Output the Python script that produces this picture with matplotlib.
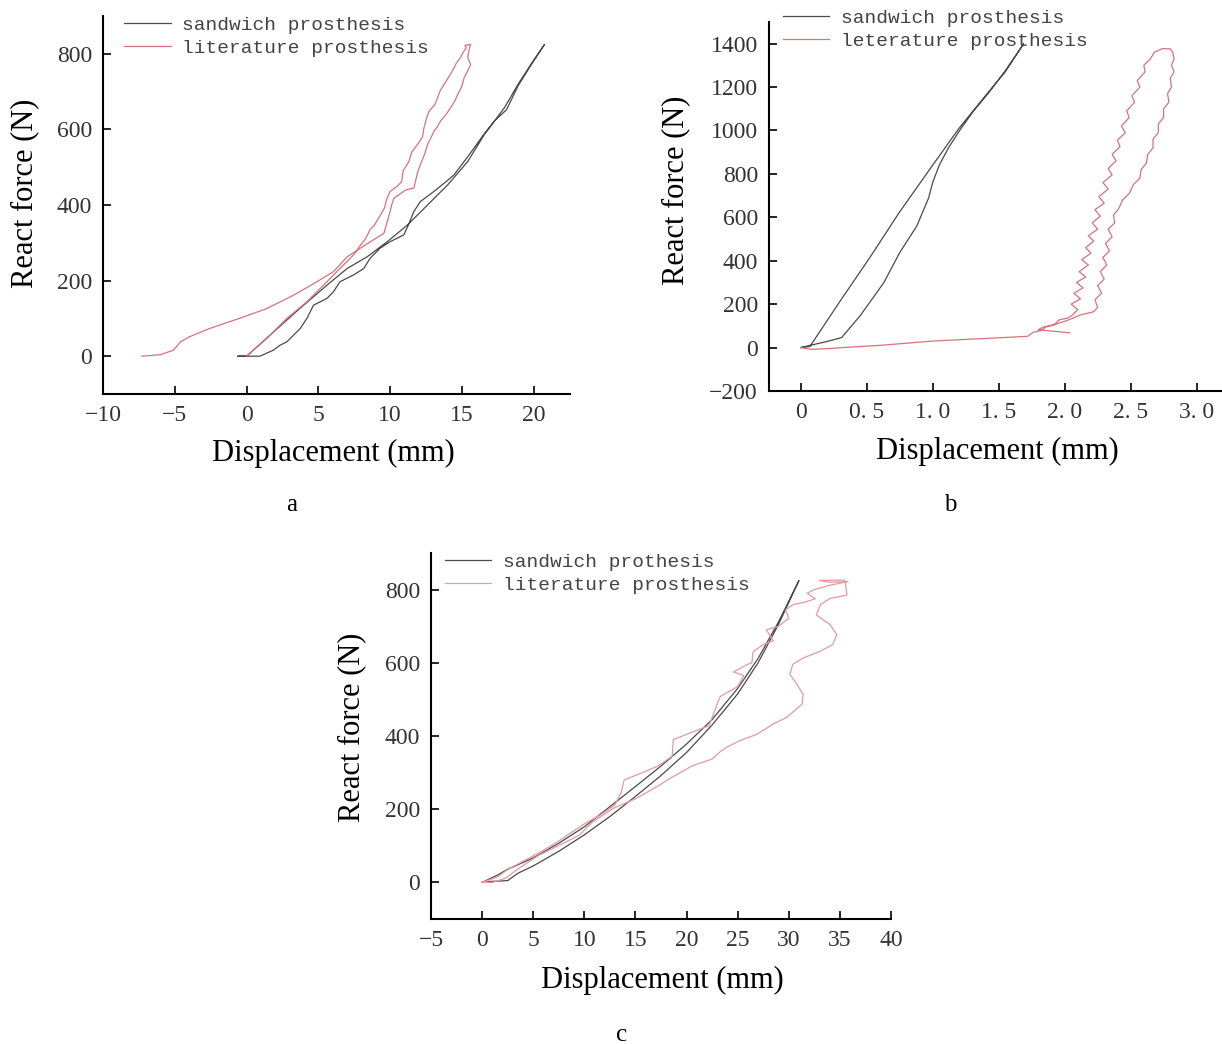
import matplotlib
matplotlib.use("Agg")
import matplotlib.pyplot as plt

# ---- panel a: loading / unloading loops (displacement mm, force N) ----
a_sandwich_x = [-0.6, 0.0, 1.9, 3.7, 5.6, 7.0, 8.4, 9.8, 11.2, 12.6, 14.0, 15.4, 16.55,
                17.95, 18.9, 19.8, 20.75,
                19.8, 18.9, 18.1, 17.25, 16.5, 15.85, 15.15, 14.45, 13.9, 13.05, 12.1,
                11.65, 11.3, 10.95, 10.0, 9.3, 8.6, 8.16, 7.45, 6.5, 6.06, 5.6, 4.66,
                4.2, 3.73, 2.8, 2.33, 1.86, 0.93, -0.6]
a_sandwich_y = [0, 0, 65, 126, 188, 232, 263, 303, 347, 400, 453, 515, 586,
                657, 719, 772, 825,
                770, 715, 652, 622, 586, 551, 515, 480, 462, 436, 409,
                383, 350, 321, 303, 286, 259, 232, 215, 197, 171, 153, 135,
                100, 73, 38, 29, 16, 0, 0]
a_literature_x = [0.0, 1.4, 2.8, 4.2, 5.6, 6.5, 7.45, 7.9, 8.3, 8.6, 8.9, 9.3, 9.6, 9.75,
                  10.0, 10.5, 10.8, 10.9, 11.3, 11.5, 11.9, 12.25, 12.35, 12.5, 12.7,
                  13.1, 13.3, 13.45, 13.75, 14.1, 14.45, 14.6, 14.9, 15.1, 15.3, 15.2,
                  15.6, 15.5,
                  15.4, 15.6, 15.4, 15.15, 15.0, 14.7, 14.5, 14.2, 13.9, 13.5, 13.3,
                  13.05, 12.8, 12.6, 12.4, 12.1, 11.9, 11.65, 11.1, 10.26, 10.1, 10.0,
                  9.56, 8.3, 7.0, 6.06, 4.9, 3.3, 1.4, -0.5, -2.6, -4.0, -4.6, -5.1,
                  -6.0, -7.3]
a_literature_y = [0, 47, 100, 144, 197, 232, 268, 292, 312, 335, 347, 372, 392, 415,
                  436, 450, 462, 490, 515, 540, 560, 580, 604, 625, 648,
                  665, 683, 700, 719, 740, 763, 775, 790, 805, 816, 822,
                  825, 812,
                  790, 772, 755, 737, 715, 692, 675, 657, 640, 622, 608,
                  595, 575, 560, 535, 507, 485, 445, 440, 418, 400, 383,
                  325, 295, 263, 224, 197, 162, 126, 100, 73, 51, 38, 16,
                  4, 0]

# ---- panel b ----
b_sandwich_x = [0.0, 0.07, 0.3, 0.53, 0.75, 1.0, 1.2, 1.4, 1.55, 1.69,
                1.55, 1.42, 1.31, 1.21, 1.12, 1.05, 1.0, 0.97, 0.88, 0.75, 0.63,
                0.45, 0.31, 0.2, 0.07, 0.0]
b_sandwich_y = [0, 5, 215, 420, 625, 840, 1010, 1160, 1270, 1400,
                1275, 1170, 1090, 1005, 920, 840, 760, 690, 560, 437, 299,
                146, 46, 28, 10, 0]
b_literature_x = [0.0, 0.08, 0.2, 0.4, 0.6, 0.8, 1.0, 1.2, 1.4, 1.6, 1.72, 1.76, 1.82,
                  1.86, 1.92, 1.96, 2.02, 2.06,
                  2.10, 2.05, 2.12, 2.07, 2.14, 2.09, 2.16, 2.11, 2.18, 2.13, 2.20,
                  2.16, 2.22, 2.18, 2.25, 2.21, 2.27, 2.23, 2.30, 2.26, 2.33, 2.29,
                  2.36, 2.33, 2.39, 2.36, 2.42, 2.40, 2.46, 2.43, 2.49, 2.47, 2.53,
                  2.51, 2.57, 2.55, 2.61, 2.60, 2.65, 2.68, 2.74, 2.80, 2.82,
                  2.83, 2.81, 2.83, 2.80, 2.81, 2.78, 2.79, 2.75, 2.75, 2.71, 2.71,
                  2.67, 2.67, 2.63, 2.62, 2.58, 2.57, 2.52, 2.49, 2.44, 2.41, 2.37,
                  2.38, 2.33, 2.36, 2.31, 2.34, 2.29, 2.32, 2.27, 2.30, 2.25, 2.28,
                  2.23, 2.25, 2.22, 2.12, 2.02, 1.92, 1.84, 1.80, 1.90, 2.04]
b_literature_y = [0, -8, -5, 3, 10, 20, 30, 36, 42, 48, 52, 70, 78,
                  95, 105, 128, 135, 150,
                  175, 200, 225, 250, 275, 300, 325, 350, 380, 405, 435,
                  460, 490, 515, 545, 575, 605, 635, 665, 695, 730, 760,
                  795, 825, 860, 890, 925, 955, 990, 1020, 1060, 1090, 1130,
                  1160, 1200, 1230, 1270, 1300, 1330, 1360, 1377, 1376, 1360,
                  1330, 1300, 1270, 1240, 1200, 1170, 1130, 1100, 1060, 1030, 990,
                  960, 920, 890, 850, 820, 780, 750, 710, 680, 640, 610,
                  575, 545, 510, 480, 445, 415, 380, 350, 315, 285, 250,
                  220, 185, 165, 150, 125, 105, 95, 82, 76, 68]

# ---- panel c ----
c_sandwich_x = [0.0, 1.0, 2.5, 3.5, 5.0, 7.5, 10.0, 12.5, 15.0, 17.5, 20.0, 22.5, 25.0,
                27.0, 29.0, 30.0, 31.0,
                29.0, 27.0, 25.0, 22.5, 20.0, 17.5, 15.0, 12.5, 10.0, 7.5, 5.0, 2.5,
                1.5, 0.0]
c_sandwich_y = [0, 3, 5, 25, 45, 85, 130, 180, 235, 292, 355, 430, 515,
                600, 705, 765, 825,
                712, 612, 530, 445, 378, 318, 262, 207, 152, 107, 67, 36,
                20, 0]
c_literature_x = [0.0, 1.5, 2.5, 4.0, 5.5, 7.0, 8.5, 10.0, 11.5, 13.0, 13.6, 13.9, 15.5,
                  17.2, 18.6, 18.7, 20.3, 22.2, 22.9, 23.3, 25.0, 25.6, 24.6, 25.9,
                  26.4, 26.5, 27.5, 28.5, 27.8, 29.0, 30.0, 29.7, 30.5, 31.5, 32.6,
                  31.8, 32.5, 34.0, 35.8, 34.0, 33.0, 35.5,
                  35.7, 34.05, 33.1, 32.7, 34.05, 34.7, 34.3, 33.1, 31.4, 30.4, 30.1,
                  30.8, 31.4, 31.3, 29.8, 28.5, 26.9, 25.2, 23.9, 23.2, 22.5, 20.6,
                  18.3, 17.3, 15.05, 12.8, 10.8, 9.5, 7.6, 5.6, 3.6, 2.35, 1.0, 0.0]
c_literature_y = [0, 15, 35, 58, 80, 104, 132, 160, 183, 212, 245, 280, 298,
                  318, 345, 390, 408, 428, 480, 508, 535, 565, 575, 595,
                  600, 630, 650, 660, 690, 700, 722, 745, 760, 765, 775,
                  790, 800, 812, 822, 820, 825, 826,
                  785, 776, 759, 731, 704, 677, 650, 632, 613, 596, 569,
                  541, 514, 487, 451, 433, 405, 387, 369, 355, 337, 319,
                  283, 265, 229, 202, 165, 129, 102, 75, 39, 12, 0, 0]

panels = [
    dict(letter="a", rect=[0.0843, 0.6226, 0.3819, 0.3621],
         xlim=(-10, 22.5), ylim=(-100, 900),
         xticks=[-10, -5, 0, 5, 10, 15, 20],
         xticklabels=["\u221210", "\u22125", "0", "5", "10", "15", "20"],
         yticks=[0, 200, 400, 600, 800],
         yticklabels=["0", "200", "400", "600", "800"],
         series=[(a_sandwich_x, a_sandwich_y), (a_literature_x, a_literature_y)],
         names=["sandwich prosthesis", "literature prosthesis"],
         red="#d8717c", legend_at=(0.045, 1.0),
         ylab=(-0.167, 0.53), xlab=(0.493, -0.156), letter_xy=(292, 505)),
    dict(letter="b", rect=[0.6293, 0.6255, 0.3715, 0.3535],
         xlim=(-0.24, 3.2), ylim=(-200, 1500),
         xticks=[0, 0.5, 1.0, 1.5, 2.0, 2.5, 3.0],
         xticklabels=["0", "0. 5", "1. 0", "1. 5", "2. 0", "2. 5", "3. 0"],
         yticks=[-200, 0, 200, 400, 600, 800, 1000, 1200, 1400],
         yticklabels=["\u2212200", "0", "200", "400", "600", "800", "1000", "1200", "1400"],
         series=[(b_sandwich_x, b_sandwich_y), (b_literature_x, b_literature_y)],
         names=["sandwich prosthesis", "leterature prosthesis"],
         red="#d8717c", legend_at=(0.03, 1.035),
         ylab=(-0.205, 0.545), xlab=(0.502, -0.163), letter_xy=(950, 505)),
    dict(letter="c", rect=[0.3527, 0.1197, 0.3764, 0.3506],
         xlim=(-5, 40), ylim=(-100, 900),
         xticks=[-5, 0, 5, 10, 15, 20, 25, 30, 35, 40],
         xticklabels=["\u22125", "0", "5", "10", "15", "20", "25", "30", "35", "40"],
         yticks=[0, 200, 400, 600, 800],
         yticklabels=["0", "200", "400", "600", "800"],
         series=[(c_sandwich_x, c_sandwich_y), (c_literature_x, c_literature_y)],
         names=["sandwich prothesis", "literature prosthesis"],
         red="#e39aa0", legend_at=(0.03, 1.0),
         ylab=(-0.172, 0.525), xlab=(0.504, -0.169), letter_xy=(622, 1035)),
]

W, H = 1222, 1044
fig = plt.figure(figsize=(W / 100, H / 100), dpi=100)
serif = "Liberation Serif"
mono = "Liberation Mono"

for p in panels:
    ax = fig.add_axes(p["rect"])
    (sx, sy), (lx, ly) = p["series"]
    ax.plot(sx, sy, color="#4a4a4a", lw=0.9, label=p["names"][0])
    ax.plot(lx, ly, color=p["red"], lw=0.9, label=p["names"][1])

    ax.set_xlim(*p["xlim"])
    ax.set_ylim(*p["ylim"])
    ax.set_xticks(p["xticks"])
    ax.set_xticklabels(p["xticklabels"], family=serif, fontsize=17, color="#333333")
    ax.set_yticks(p["yticks"])
    ax.set_yticklabels(p["yticklabels"], family=serif, fontsize=17, color="#333333")
    ax.tick_params(direction="in", length=6, width=1.2, pad=8)
    for side in ("top", "right"):
        ax.spines[side].set_visible(False)
    for side in ("left", "bottom"):
        ax.spines[side].set_linewidth(1.5)

    ax.set_xlabel("Displacement (mm)", family=serif, fontsize=22, va="center")
    ax.xaxis.set_label_coords(*p["xlab"])
    ax.set_ylabel("React force (N)", family=serif, fontsize=22, va="center")
    ax.yaxis.set_label_coords(*p["ylab"])

    leg = ax.legend(loc="upper left", bbox_to_anchor=p["legend_at"], frameon=False,
                    prop={"family": mono, "size": 14}, handlelength=2.4,
                    handletextpad=0.6, labelspacing=0.3, borderpad=0,
                    borderaxespad=0)
    for t in leg.get_texts():
        t.set_color("#444444")

    fig.text(p["letter_xy"][0] / W, 1 - p["letter_xy"][1] / H, p["letter"],
             family=serif, fontsize=18, ha="center", va="center")

fig.savefig("out.png", dpi=100, facecolor="white")
